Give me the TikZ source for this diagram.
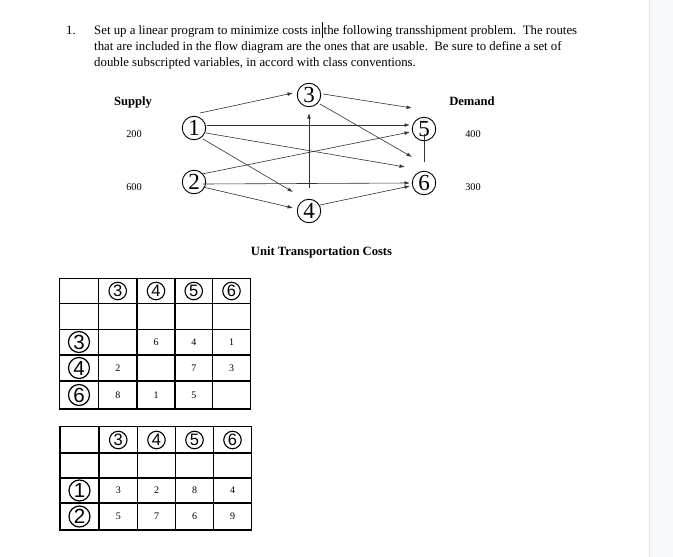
\documentclass[tikz,border=0pt]{standalone}
\usepackage{fontspec}
\setmainfont{Liberation Serif}
\newfontfamily\arialf{Liberation Sans}
\usetikzlibrary{arrows.meta,calc}
\definecolor{panelfill}{RGB}{247,248,250}
\definecolor{panelline}{RGB}{225,227,230}
\definecolor{arrowcol}{RGB}{50,50,50}
\begin{document}
\frenchspacing
\begin{tikzpicture}[x=1pt,y=-1pt,
  bodytext/.style={anchor=base west, inner sep=0, font=\fontsize{12.8}{16}\selectfont},
  lbl/.style={anchor=base, inner sep=0, font=\bfseries\fontsize{12.6}{14}\selectfont},
  numlbl/.style={anchor=base, inner sep=0, font=\fontsize{10.3}{12}\selectfont},
  cnode/.style={circle, draw, line width=0.9, minimum size=23.5, inner sep=0, font=\fontsize{23}{23}\selectfont},
  hcirc/.style={circle, draw, line width=1.1, minimum size=17.5, inner sep=0, font=\arialf\fontsize{16.5}{16}\selectfont},
  rcirc/.style={circle, draw, line width=1.2, minimum size=21, inner sep=0, font=\arialf\fontsize{20.5}{20}\selectfont},
  cell/.style={inner sep=0, font=\fontsize{10}{10}\selectfont},
  tline/.style={line width=1.1, line cap=rect},
  flow/.style={draw=arrowcol, line width=0.6, -{Latex[length=5.5,width=3.6]}},
  plainflow/.style={draw=arrowcol, line width=0.6}
]
\useasboundingbox (0,0) rectangle (673,557);
\fill[white] (0,0) rectangle (673,557);
\fill[panelfill] (650,0) rectangle (673,557);
\draw[panelline, line width=1.2] (649.5,0) -- (649.5,557);

% question text
\node[bodytext] (qnum) at (66,34) {1.};
\node[bodytext] (l1) at (94,34) {Set up a linear program to minimize costs in\hspace{0.6pt}\rule[-3.5pt]{1.5pt}{15.5pt}\hspace{0.6pt}the following transshipment problem.\ \ The routes};
\node[bodytext] (l2) at (94,50) {that are included in the flow diagram are the ones that are usable.\ \ Be sure to define a set of};
\node[bodytext] (l3) at (94,66) {double subscripted variables, in accord with class conventions.};

% labels
\node[lbl] (supply) at (133,105) {Supply};
\node[lbl] (demand) at (472,105) {Demand};
\node[numlbl] (s1) at (134,137) {200};
\node[numlbl] (s2) at (134,190) {600};
\node[numlbl] (d5) at (473,137) {400};
\node[numlbl] (d6) at (473,190) {300};
\node[lbl] (utc) at (321.5,255) {Unit Transportation Costs};

% network nodes
\node[cnode] (n1) at (194,128) {1};
\node[cnode] (n2) at (194,182) {2};
\node[cnode] (n3) at (309,95) {3};
\node[cnode] (n4) at (309,211) {4};
\node[cnode] (n5) at (424,129) {5};
\node[cnode] (n6) at (424,183) {6};

% flows
\draw[flow] ($(n1)+(6,-15)$) -- ($(n3)+(-16,-2)$);
\draw[flow] ($(n3)+(14,-1)$) -- ($(n5)+(-12,-21)$);
\draw[flow] ($(n3)+(11,9)$) -- ($(n6)+(-12,-26)$);
\draw[flow] ($(n1)+(13,-3)$) -- ($(n5)+(-14,-4)$);
\draw[flow] ($(n1)+(12,5)$) -- ($(n6)+(-19,-16)$);
\draw[flow] ($(n1)+(9,11)$) -- ($(n4)+(-16,-19)$);
\draw[flow] ($(n2)+(8,-8)$) -- ($(n5)+(-14,3)$);
\draw[flow] ($(n2)+(9,2)$) -- ($(n6)+(-14,0)$);
\draw[flow] ($(n2)+(9,5)$) -- ($(n4)+(-16,-3)$);
\draw[flow] ($(n4)+(0,-23)$) -- ($(n3)+(0,18)$);
\draw[flow] ($(n4)+(11,-6)$) -- ($(n6)+(-14,3)$);
\draw[plainflow] ($(n6)+(0,-21)$) -- ($(n5)+(0,5)$);

% table 1
\foreach \x in {59.5,98.5,137,175,212.5,250.5} \draw[tline] (\x,278.5) -- (\x,409);
\foreach \y in {278.5,303.5,329.5,355,381,409} \draw[tline] (59.5,\y) -- (250.5,\y);
\node[hcirc] (ta3) at (117.75,291) {3};
\node[hcirc] (ta4) at (156,291) {4};
\node[hcirc] (ta5) at (193.75,291) {5};
\node[hcirc] (ta6) at (231.5,291) {6};
\node[rcirc] (ra3) at (79,342) {3};
\node[rcirc] (ra4) at (79,368) {4};
\node[rcirc] (ra6) at (79,395) {6};
\node[cell] (a34) at (156,342) {6};
\node[cell] (a35) at (193.75,342) {4};
\node[cell] (a36) at (231.5,342) {1};
\node[cell] (a43) at (117.75,368) {2};
\node[cell] (a45) at (193.75,368) {7};
\node[cell] (a46) at (231.5,368) {3};
\node[cell] (a63) at (117.75,395) {8};
\node[cell] (a64) at (156,395) {1};
\node[cell] (a65) at (193.75,395) {5};

% table 2
\foreach \x in {60,99,137.5,175.5,213.5,251.5} \draw[tline] (\x,426.5) -- (\x,530);
\foreach \y in {426.5,453,478,503,530} \draw[tline] (60,\y) -- (251.5,\y);
\node[hcirc] (tb3) at (118.25,440) {3};
\node[hcirc] (tb4) at (156.5,440) {4};
\node[hcirc] (tb5) at (194.5,440) {5};
\node[hcirc] (tb6) at (232.5,440) {6};
\node[rcirc] (rb1) at (79.5,490.5) {1};
\node[rcirc] (rb2) at (79.5,516.5) {2};
\node[cell] (b13) at (118.25,490.5) {3};
\node[cell] (b14) at (156.5,490.5) {2};
\node[cell] (b15) at (194.5,490.5) {8};
\node[cell] (b16) at (232.5,490.5) {4};
\node[cell] (b23) at (118.25,516.5) {5};
\node[cell] (b24) at (156.5,516.5) {7};
\node[cell] (b25) at (194.5,516.5) {6};
\node[cell] (b26) at (232.5,516.5) {9};
\end{tikzpicture}
\end{document}
